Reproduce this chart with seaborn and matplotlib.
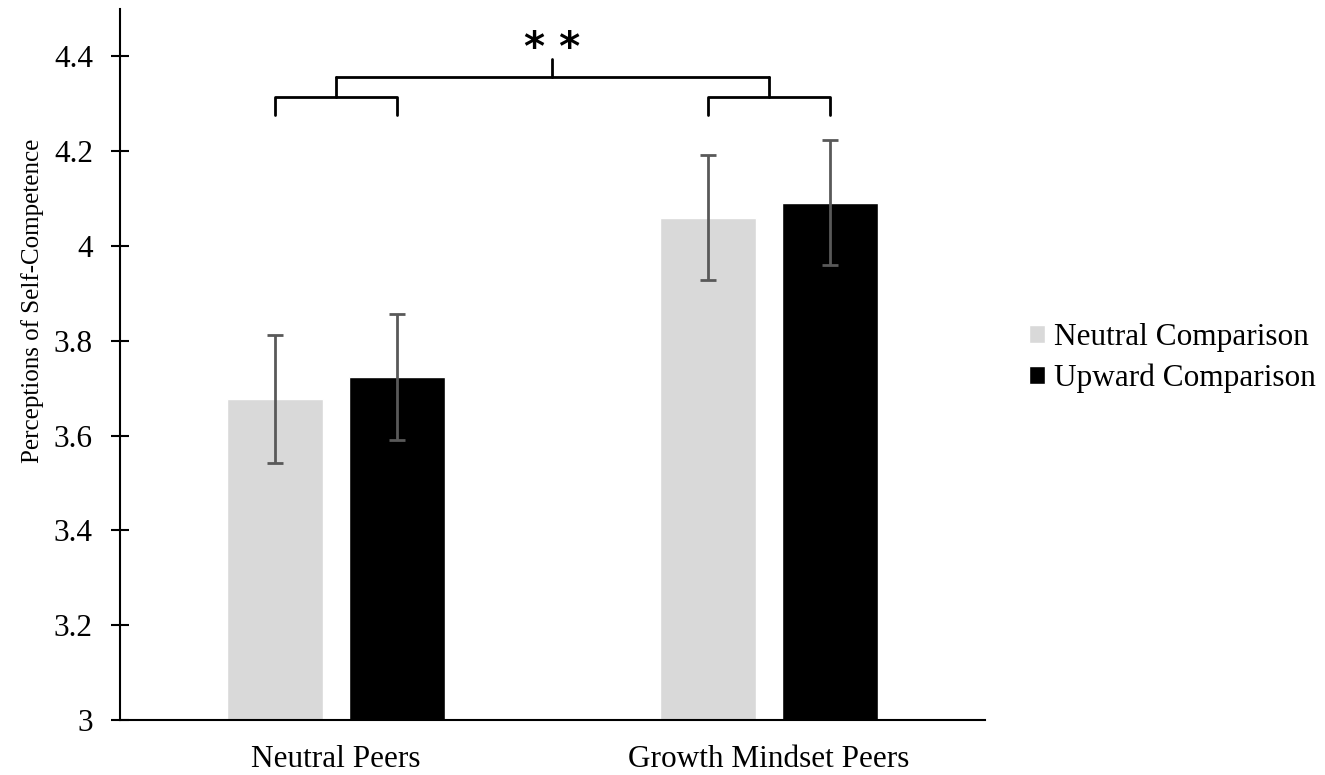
import matplotlib
matplotlib.use("Agg")

import matplotlib.pyplot as plt
import pandas as pd
import seaborn as sns

# Values
peers = ["Neutral Peers", "Neutral Peers", "Growth Mindset Peers", "Growth Mindset Peers"]
comparison = ["Neutral Comparison", "Upward Comparison", "Neutral Comparison", "Upward Comparison"]
means = [3.677, 3.723, 4.060, 4.091]
errors = [0.135, 0.133, 0.132, 0.132]

df = pd.DataFrame({"Peers": peers, "Comparison": comparison,
                   "Mean": means, "Err": errors})

sns.set_style("white")
plt.rcParams['font.family'] = ['Liberation Serif', 'DejaVu Serif']
plt.rcParams['text.color'] = 'black'
plt.rcParams['axes.labelcolor'] = 'black'
plt.rcParams['xtick.color'] = 'black'
plt.rcParams['ytick.color'] = 'black'

fig = plt.figure(figsize=(13.25, 7.75), dpi=100)
ax = fig.add_axes([120 / 1325, 55 / 775, 865 / 1325, 711 / 775])

sns.barplot(data=df, x="Peers", y="Mean", hue="Comparison",
            palette=["#d9d9d9", "#000000"], width=0.564, gap=0.213,
            errorbar=None, saturation=1, ax=ax)

# Error bars at the bar centres (bars sorted left to right follow the data order)
bars = sorted([p for p in ax.patches if p.get_height() > 0][:4], key=lambda p: p.get_x())
xs = [b.get_x() + b.get_width() / 2 for b in bars]
ax.errorbar(xs, means, yerr=errors, fmt="none", ecolor="#595959",
            elinewidth=2, capsize=6, capthick=2, zorder=3)

ax.set_ylim(3, 4.5)
ax.set_yticks([3, 3.2, 3.4, 3.6, 3.8, 4.0, 4.2, 4.4])
ax.set_yticklabels(["3", "3.2", "3.4", "3.6", "3.8", "4", "4.2", "4.4"])
ax.set_xlim(-0.5, 1.5)
ax.set_xlabel("")
ax.set_ylabel("Perceptions of Self-Competence", fontsize=18)
ax.yaxis.set_label_coords(-0.088, 0.59)
ax.tick_params(axis="y", labelsize=22.5, length=13, width=1.5, direction="inout",
               left=True, pad=13)
ax.tick_params(axis="x", labelsize=22.5, length=0, pad=18)
sns.despine(ax=ax)
ax.spines["left"].set_linewidth(1.5)
ax.spines["bottom"].set_linewidth(1.5)
ax.spines["left"].set_color("black")
ax.spines["bottom"].set_color("black")

# Significance brackets
lw = 2
for g in range(2):
    x1, x2 = xs[2 * g], xs[2 * g + 1]
    ax.plot([x1, x1, x2, x2], [4.276, 4.314, 4.314, 4.276], color="black",
            lw=lw, clip_on=False)
    xm = (x1 + x2) / 2
    ax.plot([xm, xm], [4.314, 4.356], color="black", lw=lw, clip_on=False)
c1 = (xs[0] + xs[1]) / 2
c2 = (xs[2] + xs[3]) / 2
ax.plot([c1, c2], [4.356, 4.356], color="black", lw=lw, clip_on=False)
cm = (c1 + c2) / 2
ax.plot([cm, cm], [4.356, 4.394], color="black", lw=lw, clip_on=False)
ax.text(cm, 4.373, "* *", ha="center", va="bottom", fontsize=29,
        fontweight="bold", family=["DejaVu Sans"])

leg = ax.legend(loc="center left", bbox_to_anchor=(1.033, 0.509), frameon=False,
                fontsize=22.5, handlelength=0.5, handleheight=0.5,
                handletextpad=0.3, labelspacing=0.35, borderpad=0)

fig.savefig("out.png", dpi=100)
